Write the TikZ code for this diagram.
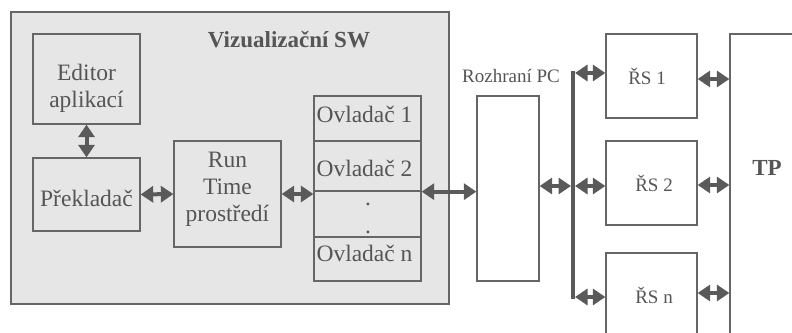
\documentclass[tikz,border=0pt]{standalone}
\usepackage{fontspec}
\setmainfont{Liberation Serif}
\usetikzlibrary{arrows.meta}
\definecolor{linegray}{HTML}{666666}
\definecolor{arrowgray}{HTML}{5A5A5A}
\definecolor{textgray}{HTML}{555555}
\definecolor{fillgray}{HTML}{E6E6E6}
\tikzset{
  blk/.style={draw=linegray, line width=1.3pt, inner sep=0pt},
  bigtxt/.style={text=textgray, font=\fontsize{23.5}{27}\selectfont, align=center, inner sep=0pt},
  smalltxt/.style={text=textgray, font=\fontsize{19}{22}\selectfont, inner sep=0pt},
  boldtxt/.style={text=textgray, font=\fontsize{23}{27}\selectfont\bfseries, inner sep=0pt},
  dbl/.style={{Triangle[length=12.5pt,width=16pt]}-{Triangle[length=12.5pt,width=16pt]}, line width=4pt, draw=arrowgray},
  busline/.style={draw=arrowgray, line width=4.5pt}
}
\begin{document}
\begin{tikzpicture}[x=1pt,y=-1pt]
\useasboundingbox (0,0) rectangle (792,332);
\clip (0,0) rectangle (792,332);
\fill[white] (0,0) rectangle (792,332);
% Visualization SW frame
\node[blk, fill=fillgray, minimum width=438pt, minimum height=292pt] (sw) at (230,158) {};
\node[boldtxt] (swlabel) at (289,40) {Vizualizační SW};
% inner blocks
\node[blk, minimum width=107pt, minimum height=90pt] (ed) at (86.5,79) {};
\node[bigtxt] (edt) at (86.5,88) {Editor\\aplikací};
\node[blk, minimum width=107pt, minimum height=73pt] (prek) at (86.5,194.5) {};
\node[bigtxt] (prekt) at (86.5,198) {Překladač};
\node[blk, minimum width=107pt, minimum height=106pt] (rt) at (227.5,194) {};
\node[bigtxt] (rtt) at (227.5,189.5) {Run\\Time\\prostředí};
% drivers column
\node[blk, minimum width=107pt, minimum height=45pt] (ov1) at (367.5,118.5) {};
\node[blk, minimum width=107pt, minimum height=50pt] (ov2) at (367.5,166) {};
\node[blk, minimum width=107pt, minimum height=46pt] (ovd) at (367.5,214) {};
\node[blk, minimum width=107pt, minimum height=44pt] (ovn) at (367.5,259) {};
\node[bigtxt] (ov1t) at (364.5,114) {Ovladač 1};
\node[bigtxt] (ov2t) at (364.5,168) {Ovladač 2};
\node[bigtxt] (dot1) at (368,204) {.};
\node[bigtxt] (dot2) at (368,232) {.};
\node[bigtxt] (ovnt) at (364.5,253.5) {Ovladač n};
% PC interface
\node[smalltxt] (rozt) at (511,76) {Rozhraní PC};
\node[blk, fill=white, minimum width=62pt, minimum height=185pt] (roz) at (508,188.5) {};
% control stations
\node[blk, fill=white, minimum width=91pt, minimum height=84pt] (rs1) at (651.5,76) {};
\node[smalltxt] (rs1t) at (647,76) {ŘS 1};
\node[blk, fill=white, minimum width=91pt, minimum height=84pt] (rs2) at (651.5,183) {};
\node[smalltxt] (rs2t) at (654,183) {ŘS 2};
\node[blk, fill=white, minimum width=91pt, minimum height=110pt] (rsn) at (651.5,308) {};
\node[smalltxt] (rsnt) at (654,295) {ŘS n};
% technological process
\node[blk, fill=white, minimum width=100pt, minimum height=350pt] (tp) at (780,209) {};
\node[boldtxt] (tpt) at (767,168) {TP};
% bus
\coordinate (bustop) at (573,73);
\coordinate (busmid) at (573,186);
\coordinate (busbot) at (573,297);
\draw[busline] ([yshift=2.2pt]bustop) -- ([yshift=-2.2pt]busbot);
% arrows
\draw[dbl] (ed.south) -- (prek.north);
\draw[dbl] (prek.east) -- (rt.west);
\draw[dbl] (rt.east) -- (rt.east -| ov2.west);
\draw[dbl] (ov2.south east) -- (ov2.south east -| roz.west);
\draw[dbl] (roz.east |- busmid) -- ([xshift=-2pt]busmid);
\draw[dbl] ([xshift=2pt]busmid) -- (busmid -| rs2.west);
\draw[dbl] ([xshift=2pt]bustop) -- (bustop -| rs1.west);
\draw[dbl] ([xshift=2pt]busbot) -- (busbot -| rsn.west);
\draw[dbl] (rs1.east |- 0,79) -- (tp.west |- 0,79);
\draw[dbl] (rs2.east |- 0,185) -- (tp.west |- 0,185);
\draw[dbl] (rsn.east |- 0,293) -- (tp.west |- 0,293);
\end{tikzpicture}
\end{document}
